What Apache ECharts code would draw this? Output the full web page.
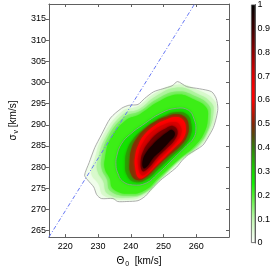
<!DOCTYPE html>
<html><head><meta charset="utf-8">
<script src="https://cdn.jsdelivr.net/npm/echarts@6/dist/echarts.min.js"></script>
<style>html,body{margin:0;padding:0;background:#fff}#c{width:273px;height:273px}</style>
</head><body><div id="c"></div>
<script>
// ---- data ----
const xTicks = [220, 230, 240, 250, 260];
const yTicks = [265, 270, 275, 280, 285, 290, 295, 300, 305, 310, 315];
const cbTicks = [0, 0.1, 0.2, 0.3, 0.4, 0.5, 0.6, 0.7, 0.8, 0.9, 1];
const xRange = [215, 270];
const yRange = [263.5, 318.5];

// filled-contour levels (normalised density) and their outlines, [Theta0, sigma_v]
const levels = [0.01, 0.05, 0.1, 0.15, 0.2, 0.3, 0.4, 0.5, 0.6, 0.7, 0.8, 0.9];
const c001 = [[254.3,300.2],[257.1,299.0],[261.0,298.5],[264.7,297.8],[266.1,296.2],[266.6,293.9],[266.1,291.6],[265.2,289.3],[263.5,286.9],[261.9,285.1],[257.6,283.0],[255.7,281.6],[254.0,280.0],[251.5,278.4],[249.2,277.0],[246.4,274.9],[244.5,273.2],[242.2,272.1],[238.8,271.9],[236.0,271.9],[234.6,272.6],[231.0,272.6],[229.6,273.5],[228.7,275.3],[226.8,277.0],[225.9,278.1],[227.3,281.1],[229.0,284.6],[231.0,287.6],[233.8,291.6],[237.2,293.9],[239.4,294.6],[242.2,294.8],[244.2,296.2],[247.0,297.8],[249.8,298.5],[252.6,299.2]];
const c005 = [[254.28,299.47],[260.74,298.08],[265.51,295.76],[266.07,293.43],[264.67,289.02],[261.30,285.08],[255.41,281.60],[249.23,277.19],[244.46,273.47],[239.13,272.31],[231.84,273.24],[230.15,276.03],[227.91,278.58],[228.75,281.37],[231.56,287.40],[237.45,293.20],[242.22,294.36],[247.27,297.38]];
const c010 = [[254.28,298.77],[260.18,297.38],[264.67,295.06],[265.23,292.74],[263.82,288.79],[260.74,285.08],[255.13,281.83],[248.95,277.19],[244.46,273.94],[239.13,272.78],[232.96,273.71],[231.56,276.72],[229.87,279.04],[229.87,281.60],[232.40,287.17],[237.73,292.51],[242.50,293.67],[247.55,296.68]];
const c015 = [[254.28,297.84],[259.90,296.68],[263.82,294.60],[264.39,292.27],[263.26,288.33],[260.18,285.08],[254.85,281.83],[248.95,277.42],[244.46,274.17],[239.41,273.24],[233.80,274.40],[232.68,277.19],[231.27,279.28],[230.99,281.83],[232.96,286.94],[238.01,291.81],[242.78,293.20],[247.83,295.99]];
const c020 = [[254.28,297.15],[259.33,295.99],[262.98,294.13],[263.54,291.58],[262.42,288.10],[259.62,285.08],[254.56,281.83],[248.67,277.65],[244.46,274.63],[239.69,273.71],[234.64,274.87],[233.52,277.42],[232.12,279.51],[232.12,282.06],[233.80,286.70],[238.57,291.11],[242.78,292.51],[248.11,295.29]];
const c030 = [[254.00,293.90],[257.65,293.43],[259.33,291.35],[259.90,288.79],[259.05,286.70],[257.09,285.08],[253.44,282.29],[248.11,278.35],[244.74,276.26],[240.53,275.80],[237.45,276.72],[236.04,278.58],[235.48,280.44],[235.76,282.76],[237.17,285.54],[239.97,287.86],[243.62,289.95],[249.23,292.74]];
const c040 = [[253.72,292.97],[257.09,292.51],[258.49,290.19],[258.21,287.40],[256.25,285.08],[252.88,282.76],[248.39,279.51],[245.02,277.19],[241.38,276.49],[238.85,278.12],[238.29,280.90],[238.85,283.92],[240.82,286.70],[243.62,288.79],[246.99,290.65],[250.07,292.04]];
const c050 = [[253.72,292.51],[256.53,291.81],[257.65,289.72],[257.09,287.17],[255.13,285.08],[252.04,282.99],[248.11,280.21],[245.02,277.88],[241.94,276.96],[239.97,278.58],[239.69,281.37],[240.25,284.38],[241.94,286.94],[244.74,289.26],[247.83,290.88],[250.64,291.81]];
const c060 = [[253.72,291.81],[255.97,291.11],[256.81,289.02],[255.97,286.70],[253.72,284.85],[250.64,282.53],[247.27,279.97],[244.46,277.88],[242.50,277.42],[241.38,279.74],[241.38,282.76],[242.50,285.54],[244.46,287.86],[247.55,289.95],[250.64,291.11]];
const c070 = [[253.44,290.65],[255.13,289.72],[255.41,287.86],[254.00,286.01],[251.20,283.69],[248.11,281.37],[245.59,279.04],[243.34,278.12],[242.22,280.44],[242.50,283.45],[243.90,286.01],[246.43,288.33],[249.79,289.95]];
const c080 = [[252.88,289.72],[254.28,288.56],[253.44,286.47],[250.92,284.38],[248.11,282.29],[245.59,279.97],[243.62,279.04],[243.06,281.37],[243.90,283.92],[245.87,286.24],[248.39,288.10],[250.92,289.26]];
const c090 = [[252.60,288.79],[253.44,287.63],[251.48,285.78],[249.23,283.92],[246.71,282.06],[245.02,280.21],[243.90,279.74],[243.62,281.37],[244.74,283.45],[246.71,285.31],[248.95,286.94],[250.92,288.10]];
const contours = [c001, c005, c010, c015, c020, c030, c040, c050, c060, c070, c080, c090];
const levelColors = ['#f0fdeb', '#d8f9cc', '#b0f3a0', '#80ee6a', '#3cee16', '#12e400', '#2a9e04', '#7e3404', '#ff0000', '#d80000', '#740000', '#180000'];
const outlinedLevels = [0, 5]; // indices of the contours drawn with a grey line

// dash-dot reference line
const diagonal = [[215, 263.5], [259.5, 318.5]];

// colour map of the colour bar
const cmapStops = [[0,'#ffffff'],[0.1,'#c0f8b0'],[0.2,'#50f030'],[0.25,'#10f000'],[0.3,'#18d400'],[0.4,'#347c0c'],[0.45,'#544a0a'],[0.5,'#842404'],[0.6,'#ff0000'],[0.65,'#f80000'],[0.7,'#e00000'],[0.8,'#900000'],[0.9,'#3c0000'],[1,'#000000']];

// ---- chart ----
const FONT = 'Liberation Sans';
const chart = echarts.init(document.getElementById('c'), null, {renderer: 'canvas'});
const axisCol = '#606060';
const tickLab = {fontSize: 9, color: '#000', fontFamily: FONT};
const blurs = [0, 1.5, 2, 2, 3, 3, 3, 3, 3, 3, 3, 3];

chart.setOption({
  animation: false,
  grid: [
    {left: 33, top: 4, width: 196, height: 237},
    {left: 251, top: 4, width: 8, height: 239}
  ],
  xAxis: [
    {type: 'value', gridIndex: 0, min: xRange[0], max: xRange[1], position: 'bottom',
     axisLine: {lineStyle: {color: axisCol, width: 1}},
     axisTick: {inside: true, length: 3, customValues: xTicks, lineStyle: {color: axisCol}},
     axisLabel: Object.assign({customValues: xTicks, margin: 5}, tickLab),
     splitLine: {show: false},
     name: '{t|Θ}{s|0}{t|  [km/s]}', nameLocation: 'middle', nameGap: 14,
     nameTextStyle: {fontFamily: FONT, color: '#000', rich: {t: {fontSize: 10, fontFamily: FONT}, s: {fontSize: 7, fontFamily: FONT, padding: [7, 0, 0, 1]}}}},
    {type: 'value', gridIndex: 0, min: xRange[0], max: xRange[1], position: 'top',
     axisLine: {lineStyle: {color: axisCol, width: 1}},
     axisTick: {inside: true, length: 3, customValues: xTicks, lineStyle: {color: axisCol}},
     axisLabel: {show: false}, splitLine: {show: false}},
    {type: 'category', gridIndex: 1, data: ['cb'], show: false}
  ],
  yAxis: [
    {type: 'value', gridIndex: 0, min: yRange[0], max: yRange[1], position: 'left',
     axisLine: {lineStyle: {color: axisCol, width: 1}},
     axisTick: {inside: false, length: 3, customValues: yTicks, lineStyle: {color: axisCol}},
     axisLabel: Object.assign({customValues: yTicks, margin: 3}, tickLab),
     splitLine: {show: false},
     name: '{t|σ}{s|v}{t| [km/s]}', nameLocation: 'middle', nameGap: 21, nameRotate: 90,
     nameTextStyle: {fontFamily: FONT, color: '#000', rich: {t: {fontSize: 10, fontFamily: FONT}, s: {fontSize: 7, fontFamily: FONT, padding: [7, 0, 0, 1]}}}},
    {type: 'value', gridIndex: 0, min: yRange[0], max: yRange[1], position: 'right',
     axisLine: {lineStyle: {color: axisCol, width: 1}},
     axisTick: {inside: true, length: 3, customValues: yTicks, lineStyle: {color: axisCol}},
     axisLabel: {show: false}, splitLine: {show: false}},
    {type: 'value', gridIndex: 1, min: 0, max: 1, interval: 0.1, position: 'right',
     axisLine: {show: true, lineStyle: {color: axisCol, width: 1}},
     axisTick: {inside: true, length: 2, lineStyle: {color: axisCol}},
     axisLabel: Object.assign({margin: 2, formatter: v => (v === 0 || v === 1) ? String(v) : v.toFixed(1)}, tickLab),
     splitLine: {show: false}}
  ],
  series: [
    {type: 'custom', xAxisIndex: 0, yAxisIndex: 0, clip: true, z: 2,
     data: levels.map((l, i) => [i]),
     renderItem: function (params, api) {
       const i = params.dataIndex;
       const pts = contours[i].map(p => api.coord(p));
       return {type: 'polygon', shape: {points: pts, smooth: i === 0 ? 0.25 : 0.45},
               style: {fill: levelColors[i], shadowBlur: blurs[i], shadowColor: levelColors[i]}};
     }},
    {type: 'custom', xAxisIndex: 0, yAxisIndex: 0, clip: true, z: 3,
     data: outlinedLevels.map(i => [i]),
     renderItem: function (params, api) {
       const i = outlinedLevels[params.dataIndex];
       const pts = contours[i].map(p => api.coord(p));
       return {type: 'polygon', shape: {points: pts, smooth: i === 0 ? 0.25 : 0.45},
               style: {fill: null, stroke: '#999999', lineWidth: 0.8}};
     }},
    {type: 'line', xAxisIndex: 0, yAxisIndex: 0, data: diagonal, symbol: 'none', z: 5,
     lineStyle: {color: '#6677f4', width: 1, type: [4, 2, 1, 2]}},
    {type: 'bar', xAxisIndex: 2, yAxisIndex: 2, data: [1], barWidth: '100%', z: 2,
     itemStyle: {borderColor: '#555', borderWidth: 0.8,
       color: new echarts.graphic.LinearGradient(0, 1, 0, 0, cmapStops.map(s => ({offset: s[0], color: s[1]})))}}
  ]
});
</script></body></html>
